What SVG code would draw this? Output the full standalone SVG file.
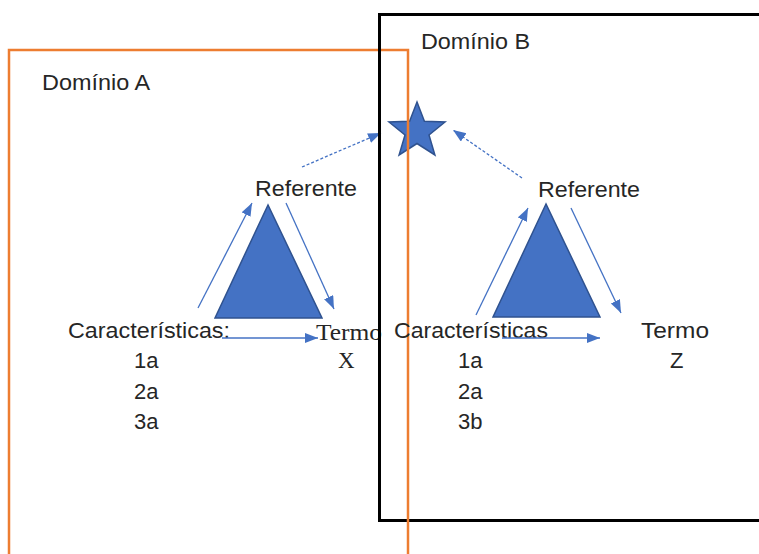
<svg xmlns="http://www.w3.org/2000/svg" width="759" height="554" viewBox="0 0 759 554">
<style>
.sans{font-family:"Liberation Sans","DejaVu Sans",sans-serif;font-size:22px;fill:#262626}
.serif{font-family:"Liberation Serif","DejaVu Serif",serif;font-size:23px;fill:#262626}
.tri{fill:#4472C4;stroke:#2F528F;stroke-width:1.5}
.con{stroke:#4472C4;stroke-width:1.3;fill:none}
.dash{stroke-dasharray:3 2}
</style>
<defs>
<marker id="ah" markerUnits="userSpaceOnUse" markerWidth="14" markerHeight="12" refX="13" refY="5" orient="auto">
<path d="M0,0 L13,5 L0,10 z" fill="#4472C4"/>
</marker>
</defs>
<g id="dominio-b">
<rect x="379.5" y="14.5" width="400" height="506" fill="none" stroke="#000" stroke-width="3"/>
<text class="sans" x="421" y="49" textLength="109" lengthAdjust="spacingAndGlyphs">Domínio B</text>
</g>
<g id="star">
<polygon class="tri" points="417,102 424.4,121.2 445,122 429,134.9 434.9,155 417,143.5 399.1,155 405,134.9 389,122 409.6,121.2"/>
</g>
<g id="dominio-a">
<rect x="9" y="50" width="399" height="520" fill="none" stroke="#ED7D31" stroke-width="2.5"/>
<text class="sans" x="42" y="90" textLength="108" lengthAdjust="spacingAndGlyphs">Domínio A</text>
</g>
<g id="triangle-a">
<polygon class="tri" points="268,205 215,318 322,318"/>
</g>
<g id="triangle-b">
<polygon class="tri" points="546,204 493,317 600,317"/>
</g>
<g id="referente-a"><text class="sans" x="255" y="196" textLength="102" lengthAdjust="spacingAndGlyphs">Referente</text></g>
<g id="referente-b"><text class="sans" x="538" y="197" textLength="102" lengthAdjust="spacingAndGlyphs">Referente</text></g>
<g id="caracteristicas-a">
<text class="sans" x="68" y="338" textLength="162" lengthAdjust="spacingAndGlyphs">Características:</text>
<text class="sans" x="134" y="368">1a</text>
<text class="sans" x="134" y="399">2a</text>
<text class="sans" x="134" y="429">3a</text>
</g>
<g id="caracteristicas-b">
<text class="sans" x="394" y="338" textLength="154" lengthAdjust="spacingAndGlyphs">Características</text>
<text class="sans" x="458" y="368">1a</text>
<text class="sans" x="458" y="399">2a</text>
<text class="sans" x="458" y="429">3b</text>
</g>
<g id="termo-x">
<text class="serif" x="316" y="340" textLength="66" lengthAdjust="spacingAndGlyphs">Termo</text>
<text class="serif" x="338" y="368">X</text>
</g>
<g id="termo-z">
<text class="sans" x="641" y="338" textLength="68" lengthAdjust="spacingAndGlyphs">Termo</text>
<text class="sans" x="670" y="368">Z</text>
</g>
<g id="connectors">
<line class="con" x1="198" y1="308" x2="252" y2="203" marker-end="url(#ah)"/>
<line class="con" x1="286" y1="203" x2="334" y2="309" marker-end="url(#ah)"/>
<line class="con" x1="222" y1="338" x2="318" y2="338" marker-end="url(#ah)"/>
<line class="con dash" x1="302" y1="167" x2="381" y2="133" marker-end="url(#ah)"/>
<line class="con" x1="476" y1="315" x2="528" y2="208" marker-end="url(#ah)"/>
<line class="con" x1="571" y1="208" x2="621" y2="313" marker-end="url(#ah)"/>
<line class="con" x1="502" y1="338" x2="600" y2="338" marker-end="url(#ah)"/>
<line class="con dash" x1="522" y1="178" x2="453" y2="130" marker-end="url(#ah)"/>
</g>
<line x1="379.5" y1="14" x2="379.5" y2="521" stroke="#000" stroke-width="3"/>
</svg>
